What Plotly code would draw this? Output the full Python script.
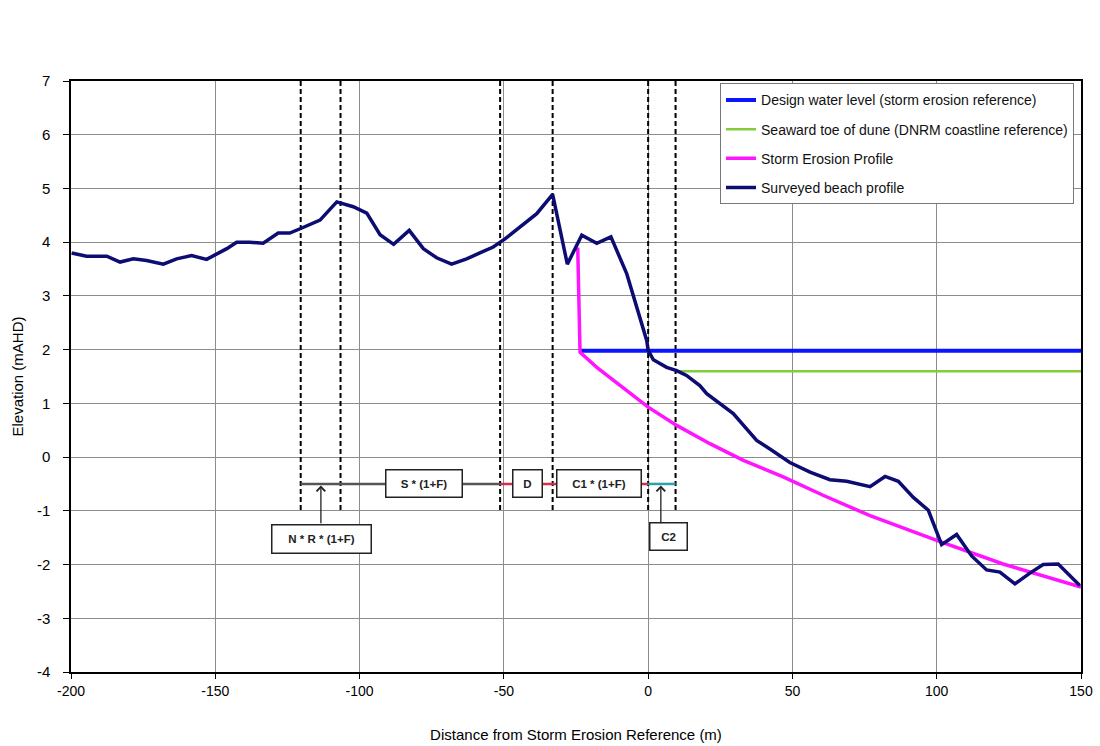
import plotly.graph_objects as go

# ---------------- data ----------------
survey_x = [-199.8, -194.6, -187.6, -183.0, -178.4, -173.8, -168.0, -163.4, -158.2, -153.0,
            -146.0, -142.6, -138.0, -133.4, -128.2, -124.2, -120.6, -113.7, -107.9, -102.2,
            -97.5, -92.9, -88.2, -82.8, -77.9, -73.3, -68.1, -62.9, -58.3, -53.7,
            -49.6, -44.4, -38.6, -33.1, -28.0, -23.0, -17.8, -12.9, -7.4, -0.5,
            0.0, 1.8, 6.4, 9.9, 13.3, 17.9, 20.3, 29.5, 37.6, 42.2,
            49.1, 56.1, 63.0, 68.8, 76.9, 82.1, 86.7, 91.9, 97.1, 101.7,
            106.9, 112.1, 117.3, 121.9, 127.1, 132.3, 136.9, 142.1, 149.6]
survey_y = [3.80, 3.74, 3.74, 3.63, 3.69, 3.66, 3.59, 3.69, 3.75, 3.68,
            3.88, 4.00, 4.00, 3.98, 4.17, 4.17, 4.25, 4.41, 4.75, 4.66,
            4.54, 4.14, 3.96, 4.22, 3.88, 3.71, 3.59, 3.69, 3.80, 3.91,
            4.06, 4.28, 4.53, 4.89, 3.59, 4.13, 3.98, 4.10, 3.41, 2.17,
            1.99, 1.81, 1.67, 1.61, 1.52, 1.33, 1.18, 0.81, 0.31, 0.15,
            -0.10, -0.28, -0.42, -0.45, -0.55, -0.36, -0.45, -0.75, -0.99, -1.63,
            -1.44, -1.84, -2.10, -2.14, -2.36, -2.16, -2.00, -1.99, -2.39]

erosion_x = [-24.4, -23.6, -17.8, -9.8, 0.0, 9.9, 21.4, 33.0, 46.8, 61.0, 76.9, 100.0, 123.0, 150.0]
erosion_y = [3.90, 1.95, 1.67, 1.33, 0.93, 0.59, 0.25, -0.06, -0.37, -0.72, -1.09, -1.55, -1.99, -2.42]

design_x = [-23.6, 150.0]
design_y = [1.98, 1.98]

toe_x = [11.0, 150.0]
toe_y = [1.60, 1.60]

dash_x = [-120.4, -106.6, -51.3, -33.1, 0.0, 9.5]
dash_top, dash_bottom = 7.0, -1.0

meas_y = -0.5
meas_gray = [-120.4, -51.3]
meas_red = [-51.3, 0.0]
meas_teal = [0.0, 9.5]

box_labels = ["S * (1+F)", "D", "C1 * (1+F)"]
box_x = [-77.7, -41.8, -17.2]
box_w = [75, 28, 83]

nr_label, nr_x, nr_y = "N * R * (1+F)", -113.2, -1.52
c2_label, c2_x, c2_y = "C2", 7.2, -1.47
arrow_x = [-113.4, 4.4]
arrow_tail_y = -1.26

x_ticks = [-200, -150, -100, -50, 0, 50, 100, 150]
x_ticktext = ["-200", "-150", "-100", "-50", "0", "50", "100", "150"]
y_ticks = [-4, -3, -2, -1, 0, 1, 2, 3, 4, 5, 6, 7]
y_ticktext = ["-4", "-3", "-2", "-1", "0", "1", "2", "3", "4", "5", "6", "7"]

# ---------------- figure ----------------
fig = go.Figure()

vx, vy = [], []
for d in dash_x:
    vx += [d, d, None]
    vy += [dash_top, dash_bottom, None]
fig.add_trace(go.Scatter(x=vx, y=vy, mode="lines", showlegend=False, hoverinfo="skip",
                         line=dict(color="black", width=2, dash="5px,3px")))

fig.add_trace(go.Scatter(x=meas_gray, y=[meas_y] * 2, mode="lines", showlegend=False,
                         line=dict(color="#555555", width=2.5)))
fig.add_trace(go.Scatter(x=meas_red, y=[meas_y] * 2, mode="lines", showlegend=False,
                         line=dict(color="#d0304c", width=2.5)))
fig.add_trace(go.Scatter(x=meas_teal, y=[meas_y] * 2, mode="lines", showlegend=False,
                         line=dict(color="#2aa1a8", width=2.5)))

fig.add_trace(go.Scatter(x=design_x, y=design_y, mode="lines", legendgroup="a",
                         name="Design water level (storm erosion reference)",
                         line=dict(color="#0a14ff", width=4)))
fig.add_trace(go.Scatter(x=toe_x, y=toe_y, mode="lines", legendgroup="b",
                         name="Seaward toe of dune (DNRM coastline reference)",
                         line=dict(color="#84cc3c", width=2.5)))
fig.add_trace(go.Scatter(x=erosion_x, y=erosion_y, mode="lines", legendgroup="c",
                         name="Storm Erosion Profile",
                         line=dict(color="#ff14ff", width=3.5)))
fig.add_trace(go.Scatter(x=survey_x, y=survey_y, mode="lines", legendgroup="d",
                         name="Surveyed beach profile",
                         line=dict(color="#0c0c72", width=3.5)))

box_font = dict(family="Liberation Sans, Arial", size=11.5, color="#222")
for lab, bx, bw in zip(box_labels, box_x, box_w):
    fig.add_annotation(x=bx, y=meas_y, xref="x", yref="y", text="<b>" + lab + "</b>",
                       showarrow=False, width=bw, height=26, bgcolor="white",
                       bordercolor="#222", borderwidth=1.5, borderpad=0, font=box_font)
fig.add_annotation(x=nr_x, y=nr_y, xref="x", yref="y", text="<b>" + nr_label + "</b>",
                   showarrow=False, width=98, height=27, bgcolor="white", bordercolor="#222",
                   borderwidth=1.5, borderpad=0, font=box_font)
fig.add_annotation(x=c2_x, y=c2_y, xref="x", yref="y", text="<b>" + c2_label + "</b>",
                   showarrow=False, width=36, height=26, bgcolor="white", bordercolor="#222",
                   borderwidth=1.5, borderpad=0, font=box_font)
for axx in arrow_x:
    fig.add_annotation(x=axx, y=meas_y - 0.03, ax=axx, ay=arrow_tail_y, xref="x", yref="y",
                       axref="x", ayref="y", text="", showarrow=True, arrowhead=4,
                       arrowsize=1.3, arrowwidth=1.3, arrowcolor="#222")

fig.update_layout(
    width=1100, height=746,
    margin=dict(l=71, r=19, t=81, b=74),
    paper_bgcolor="white", plot_bgcolor="white",
    font=dict(family="Liberation Sans, Arial", size=13, color="black"),
    legend=dict(x=0.6426, y=0.996, xanchor="left", yanchor="top",
                bgcolor="white", bordercolor="#777", borderwidth=1,
                font=dict(size=14, color="#111"), tracegroupgap=8, itemwidth=30),
    showlegend=True,
)
fig.update_xaxes(range=[-200, 150], tickvals=x_ticks, ticktext=x_ticktext,
                 showgrid=True, gridcolor="#8c8c8c", gridwidth=1, automargin=False,
                 showline=True, linecolor="black", linewidth=1.5, mirror=True,
                 ticks="outside", ticklen=5, tickcolor="black", zeroline=False,
                 tickfont=dict(size=14),
                 title=dict(text="Distance from Storm Erosion Reference (m)", font=dict(size=15),
                            standoff=32))
fig.update_yaxes(range=[-4, 7], tickvals=y_ticks, ticktext=y_ticktext,
                 showgrid=True, gridcolor="#8c8c8c", gridwidth=1, automargin=False,
                 showline=True, linecolor="black", linewidth=1.5, mirror=True,
                 ticks="outside", ticklen=6, tickcolor="black", zeroline=False,
                 tickfont=dict(size=15), ticklabelstandoff=10,
                 title=dict(text="Elevation (mAHD)", font=dict(size=15), standoff=10))

fig.write_html("out.html", config={"displayModeBar": False},
               post_script="document.body.style.margin='0';")
